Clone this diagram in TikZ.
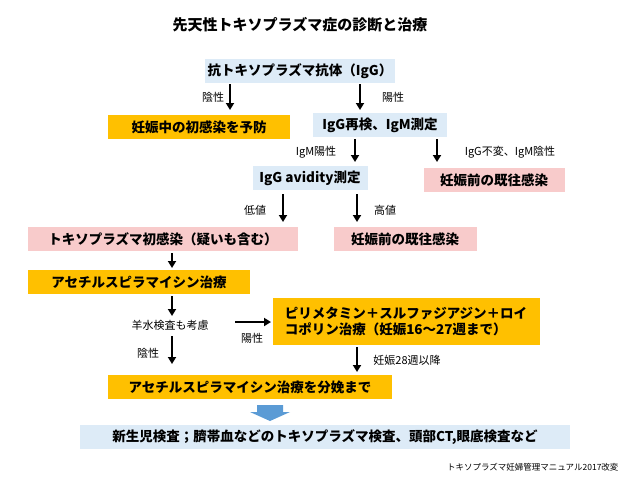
\documentclass[tikz,border=0pt]{standalone}
\usepackage{fontspec}
\setmainfont{Noto Sans CJK JP}
\usetikzlibrary{arrows.meta}
\definecolor{lb}{HTML}{DDEBF7}
\definecolor{og}{HTML}{FFC000}
\definecolor{pk}{HTML}{F8CBCB}
\definecolor{ba}{HTML}{5B9BD5}
\begin{document}
\begin{tikzpicture}[x=1pt,y=-1pt,
  bx/.style={inner sep=0pt,minimum height=24pt,font=\fontsize{13.5}{16}\selectfont\bfseries},
  blue/.style={bx,fill=lb},org/.style={bx,fill=og},pnk/.style={bx,fill=pk},
  ar/.style={line width=2.2pt,-{Triangle[length=7pt,width=8pt]}},
  lab/.style={font=\fontsize{11}{13}\selectfont}]
\useasboundingbox (0,0) rectangle (640,488);
\node[font=\fontsize{15}{17}\selectfont\bfseries] (t) at (300,25) {先天性トキソプラズマ症の診断と治療};
\node[blue,minimum width=190pt] (b1) at (300,71) {抗トキソプラズマ抗体（IgG）};
\node[org,minimum width=182pt] (b2) at (199,127) {妊娠中の初感染を予防};
\node[blue,minimum width=134pt] (b3) at (380,125) {IgG再検、IgM測定};
\node[blue,minimum width=115pt] (b4) at (310,178) {IgG avidity測定};
\node[pnk,minimum width=141pt] (b5) at (494,180) {妊娠前の既往感染};
\node[pnk,minimum width=270pt] (b6) at (163,239) {トキソプラズマ初感染（疑いも含む）};
\node[pnk,minimum width=143pt] (b7) at (405,239) {妊娠前の既往感染};
\node[org,minimum width=222pt] (b8) at (139,282) {アセチルスピラマイシン治療};
\node[lab] (t1) at (170,325) {羊水検査も考慮};
\node[org,minimum width=267pt,minimum height=47pt,align=left] (b9) at (406,321) {ピリメタミン＋スルファジアジン＋ロイ\\コポリン治療（妊娠16～27週まで）};
\node[org,minimum width=284pt] (b10) at (250,387) {アセチルスピラマイシン治療を分娩まで};
\node[blue,minimum width=490pt] (b11) at (325,437) {新生児検査；臍帯血などのトキソプラズマ検査、頭部CT,眼底検査など};
\node[font=\fontsize{8.5}{10}\selectfont,anchor=east] (src) at (622,467) {トキソプラズマ妊婦管理マニュアル2017改変};
\fill[ba] (257,405) -- (283,405) -- (283,412) -- (290,412) -- (270,421) -- (250,412) -- (257,412) -- cycle;
\foreach \n/\x/\ya/\yb in {a1/230/84/110,a2/360/84/110,a3/355/139/162,a4/437/139/162,a5/283/194/222,a6/357/194/222,a7/172/253/268,a8/172/296/316,a9/172/336/364,a10/357/347/372}{
  \coordinate (\n s) at (\x,\ya); \coordinate (\n e) at (\x,\yb);
  \draw[ar] (\n s) -- (\n e);}
\coordinate (hs) at (235,322); \coordinate (he) at (271,322);
\draw[ar] (hs) -- (he);
\node[lab] at (213,97) {陰性};
\node[lab] at (393,97) {陽性};
\node[lab] at (316,152) {IgM陽性};
\node[lab] at (510,152) {IgG不変、IgM陰性};
\node[lab] at (255,210) {低値};
\node[lab] at (385,210) {高値};
\node[lab] at (252,338) {陽性};
\node[lab] at (148,353) {陰性};
\node[lab] at (407,360) {妊娠28週以降};
\end{tikzpicture}
\end{document}
